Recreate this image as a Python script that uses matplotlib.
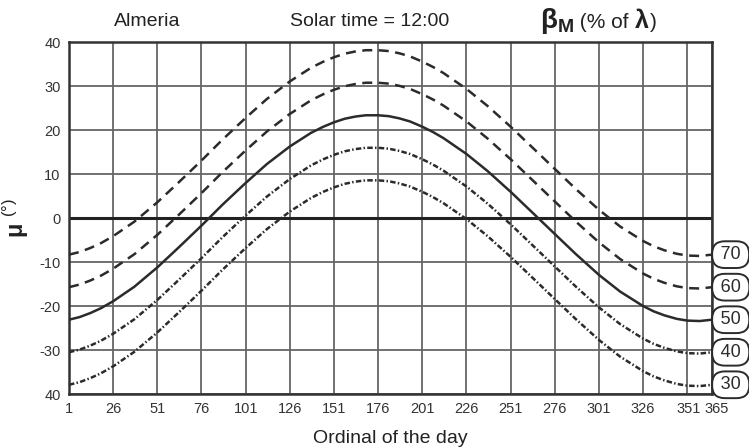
import matplotlib
matplotlib.use("Agg")
import matplotlib.pyplot as plt
import matplotlib.transforms as mtransforms
from matplotlib import font_manager
from matplotlib.offsetbox import TextArea, HPacker, AnnotationBbox

# font: narrow sans if there is one
names = {f.name for f in font_manager.fontManager.ttflist}
fam = "Liberation Sans Narrow" if "Liberation Sans Narrow" in names else "Liberation Sans"
plt.rcParams["font.family"] = [fam, "DejaVu Sans"]
plt.rcParams["mathtext.fontset"] = "custom"
plt.rcParams["mathtext.rm"] = fam
plt.rcParams["mathtext.it"] = fam + ":italic"
plt.rcParams["mathtext.bf"] = fam + ":bold"

# data
days = [1, 7, 13, 19, 26, 38, 51, 63, 76, 88, 101, 113, 126, 138, 145, 151, 157, 163, 169, 176, 182,
        188, 194, 201, 207, 213, 226, 238, 251, 263, 276, 288, 301, 313, 326, 332, 338, 345, 351, 358, 365]
mu_70 = [-8.3, -7.7, -6.8, -5.7, -4.1, -0.8, 3.6, 8.1, 13.1, 17.9, 22.8, 27.1, 31.1, 34.2, 35.6, 36.6,
         37.4, 37.9, 38.2, 38.2, 38.0, 37.5, 36.8, 35.6, 34.4, 33.0, 29.4, 25.5, 20.8, 16.2, 11.2, 6.6,
         1.9, -1.9, -5.2, -6.4, -7.3, -8.1, -8.5, -8.6, -8.3]
mu_60 = [-15.7, -15.1, -14.2, -13.1, -11.5, -8.2, -3.8, 0.7, 5.7, 10.5, 15.4, 19.7, 23.7, 26.8, 28.2, 29.2,
         30.0, 30.5, 30.8, 30.8, 30.6, 30.1, 29.4, 28.2, 27.0, 25.6, 22.0, 18.1, 13.4, 8.8, 3.8, -0.8,
         -5.5, -9.3, -12.6, -13.8, -14.7, -15.5, -15.9, -16.0, -15.7]
mu_50 = [-23.1, -22.5, -21.6, -20.5, -18.9, -15.6, -11.2, -6.7, -1.7, 3.1, 8.0, 12.3, 16.3, 19.4, 20.8, 21.8,
         22.6, 23.1, 23.4, 23.4, 23.2, 22.7, 22.0, 20.8, 19.6, 18.2, 14.6, 10.7, 6.0, 1.4, -3.6, -8.2,
         -12.9, -16.7, -20.0, -21.2, -22.1, -22.9, -23.3, -23.4, -23.1]
mu_40 = [-30.5, -29.9, -29.0, -27.9, -26.3, -23.0, -18.6, -14.1, -9.1, -4.3, 0.6, 4.9, 8.9, 12.0, 13.4, 14.4,
         15.2, 15.7, 16.0, 16.0, 15.8, 15.3, 14.6, 13.4, 12.2, 10.8, 7.2, 3.3, -1.4, -6.0, -11.0, -15.6,
         -20.3, -24.1, -27.4, -28.6, -29.5, -30.3, -30.7, -30.8, -30.5]
mu_30 = [-37.9, -37.3, -36.4, -35.3, -33.7, -30.4, -26.0, -21.5, -16.5, -11.7, -6.8, -2.5, 1.5, 4.6, 6.0, 7.0,
         7.8, 8.3, 8.6, 8.6, 8.4, 7.9, 7.2, 6.0, 4.8, 3.4, -0.2, -4.1, -8.8, -13.4, -18.4, -23.0,
         -27.7, -31.5, -34.8, -36.0, -36.9, -37.7, -38.1, -38.2, -37.9]
beta_labels = ["70", "60", "50", "40", "30"]

x_ticks = [1, 26, 51, 76, 101, 126, 151, 176, 201, 226, 251, 276, 301, 326, 351, 365]
y_ticks = [40, 30, 20, 10, 0, -10, -20, -30, -40]
y_tick_labels = ["40", "30", "20", "10", "0", "-10", "-20", "-30", "40"]

ink = "#2b2b2b"
txt = "#222222"
fig = plt.figure(figsize=(7.49, 4.48), dpi=100)
ax = fig.add_axes([0.0921, 0.1205, 0.8585, 0.7851])

series = [mu_70, mu_60, mu_50, mu_40, mu_30]
dash_long = (4, 2.6)
dash_dot = (2.2, 0.9, 0.6, 0.9)
styles = [dash_long, dash_long, None, dash_dot, dash_dot]
for vals, st, lab in zip(series, styles, beta_labels):
    if st is None:
        ax.plot(days, vals, color=ink, lw=1.8, zorder=3, solid_joinstyle="round")
    else:
        ax.plot(days, vals, color=ink, lw=1.8, dashes=st, zorder=3)
    ax.annotate("\u2009" + lab + "\u2009", xy=(1, vals[-1]), xycoords=ax.get_yaxis_transform(),
                xytext=(3.6, 0), textcoords="offset points", ha="left", va="center",
                fontsize=13, color=ink, annotation_clip=False,
                bbox=dict(boxstyle="round,pad=0.27,rounding_size=0.7", fc="white", ec=ink, lw=1.4))

ax.axhline(0, color="#222222", lw=2.2, zorder=2)
ax.set_xlim(1, 365)
ax.set_ylim(-40, 40)
ax.set_xticks(x_ticks)
ax.set_yticks(y_ticks)
ax.set_yticklabels(y_tick_labels)
ax.grid(True, color="#666666", lw=1.3)
ax.set_axisbelow(True)
ax.tick_params(length=0, labelsize=10.5, labelcolor="#333333", pad=6)
# keep 351 and 365 apart like in the original
xl = ax.get_xticklabels()
xl[-1].set_transform(xl[-1].get_transform() + mtransforms.ScaledTranslation(3 / 72, 0, fig.dpi_scale_trans))
xl[-2].set_transform(xl[-2].get_transform() + mtransforms.ScaledTranslation(1 / 72, 0, fig.dpi_scale_trans))
for sp in ax.spines.values():
    sp.set_color("#333333")
    sp.set_linewidth(1.8)

ax.set_xlabel("Ordinal of the day", fontsize=14, color=txt, labelpad=10)
ax.set_ylabel(r"$\mathbf{\mu}$ $^{(°)}$", fontsize=17, color=txt, labelpad=6)

fig.text(0.196, 0.953, "Almeria", fontsize=14, color=txt, ha="center", va="center")
fig.text(0.493, 0.953, "Solar time = 12:00", fontsize=14, color=txt, ha="center", va="center")

parts = [
    TextArea(r"$\mathbf{\beta_M}$", textprops=dict(fontsize=20, color=txt)),
    TextArea(" (% of ", textprops=dict(fontsize=15, color=txt)),
    TextArea(r"$\mathbf{\lambda}$", textprops=dict(fontsize=18, color=txt)),
    TextArea(")", textprops=dict(fontsize=15, color=txt)),
]
head = HPacker(children=parts, align="baseline", pad=0, sep=0)
fig.add_artist(AnnotationBbox(head, (0.721, 0.953), xycoords="figure fraction",
                              box_alignment=(0, 0.5), frameon=False))

fig.savefig("out.png", dpi=100)
